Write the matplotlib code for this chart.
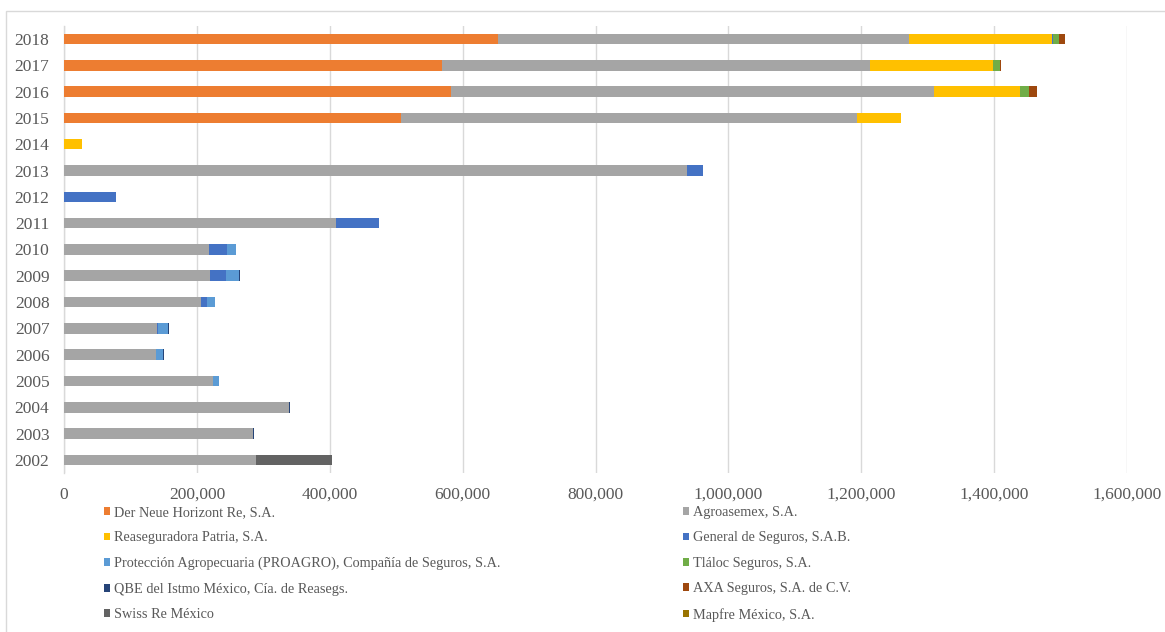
import matplotlib
matplotlib.use("Agg")
import matplotlib.pyplot as plt
from matplotlib.patches import Rectangle
from matplotlib.ticker import FuncFormatter
import numpy as np

plt.rcParams['font.family'] = ['Liberation Serif', 'DejaVu Serif']

years = [str(y) for y in range(2002, 2019)]

series_names = [
    "Der Neue Horizont Re, S.A.",
    "Agroasemex, S.A.",
    "Reaseguradora Patria, S.A.",
    "General de Seguros, S.A.B.",
    "Protección Agropecuaria (PROAGRO), Compañía de Seguros, S.A.",
    "Tláloc Seguros, S.A.",
    "QBE del Istmo México, Cía. de Reasegs.",
    "AXA Seguros, S.A. de C.V.",
    "Swiss Re México",
    "Mapfre México, S.A.",
]

#                 2002    2003    2004    2005    2006    2007    2008    2009    2010    2011    2012   2013    2014   2015    2016    2017    2018
der_neue   = [     0,      0,      0,      0,      0,      0,      0,      0,      0,      0,      0,      0,      0, 507000, 582000, 569000, 653000]
agroasemex = [288500, 285000, 339000, 224000, 139000, 140000, 206000, 220000, 218000, 410000,      0, 937000,      0, 686000, 727000, 644000, 619000]
patria     = [     0,      0,      0,      0,      0,      0,      0,      0,      0,      0,      0,      0,  26600,  67000, 130000, 185000, 215000]
general    = [     0,      0,      0,      0,      0,   1500,   9000,  23600,  28000,  63700,  77800,  24600,      0,      0,      0,      0,   1000]
proagro    = [     0,      0,      0,   9000,   9500,  14500,  12000,  20000,  13500,      0,      0,      0,      0,      0,      0,      0,      0]
tlaloc     = [     0,      0,      0,      0,      0,      0,      0,      0,      0,      0,      0,      0,      0,      0,  14000,  10500,  10000]
qbe        = [     0,   1000,   1500,      0,   1500,   1500,   1000,   1500,      0,      0,      0,      0,      0,      0,      0,      0,      0]
axa        = [     0,      0,      0,      0,      0,      0,      0,      0,      0,      0,      0,      0,      0,      0,  11000,   1500,   8600]
swiss_re   = [115000,      0,      0,      0,      0,      0,      0,      0,      0,      0,      0,      0,      0,      0,      0,      0,      0]
mapfre     = [     0,      0,      0,   1000,      0,      0,      0,      0,      0,      0,      0,      0,      0,      0,      0,      0,      0]

series_values = [der_neue, agroasemex, patria, general, proagro, tlaloc, qbe, axa, swiss_re, mapfre]
colors = ["#ED7D31", "#A5A5A5", "#FFC000", "#4472C4", "#5B9BD5",
          "#70AD47", "#264478", "#9E480E", "#636363", "#997300"]

W, H = 1165, 632
fig = plt.figure(figsize=(W / 100, H / 100), dpi=100)
ax = fig.add_axes([64 / W, 1 - 473 / H, (1127 - 64) / W, (473 - 25.85) / H])

y = np.arange(len(years))
left = np.zeros(len(years))
containers = []
for name, vals, c in zip(series_names, series_values, colors):
    v = np.array(vals, dtype=float)
    bc = ax.barh(y, v, left=left, height=0.4, color=c, label=name, linewidth=0, zorder=3)
    containers.append(bc)
    left += v

ax.set_ylim(-0.5, len(years) - 0.5)
ax.set_xlim(0, 1600000)
ax.set_yticks(y)
ax.set_yticklabels(years)
ax.set_xticks(np.arange(0, 1600001, 200000))
ax.xaxis.set_major_formatter(FuncFormatter(lambda v, p: f"{int(v):,}"))
ax.tick_params(axis='both', length=0, labelsize=12.5, labelcolor="#595959")
ax.tick_params(axis='y', pad=10.5)
ax.tick_params(axis='x', pad=10)
ax.grid(axis='x', color="#D9D9D9", linewidth=1, zorder=0)
for s in ['top', 'right', 'bottom']:
    ax.spines[s].set_visible(False)
ax.spines['left'].set_color("#D9D9D9")
ax.spines['left'].set_linewidth(1)

# legend: two columns placed like the reference
col1 = [0, 2, 4, 6, 8]
col2 = [1, 3, 5, 7, 9]
leg_kw = dict(frameon=False, fontsize=10.3, handlelength=0.45, handleheight=0.45,
              handletextpad=0.25, labelspacing=0.87, borderpad=0, borderaxespad=0,
              loc='upper left', labelcolor="#595959")
leg1 = fig.legend([containers[i] for i in col1], [series_names[i] for i in col1],
                  bbox_to_anchor=(104 / W, 1 - 506 / H), **leg_kw)
leg2 = fig.legend([containers[i] for i in col2], [series_names[i] for i in col2],
                  bbox_to_anchor=(683 / W, 1 - 506 / H), **leg_kw)

# outer chart border
fig.add_artist(Rectangle((6 / W, -0.1), 2, 1 - 11 / H + 0.1, transform=fig.transFigure,
                         fill=False, edgecolor="#D9D9D9", linewidth=1))

fig.savefig("out.png", dpi=100)
